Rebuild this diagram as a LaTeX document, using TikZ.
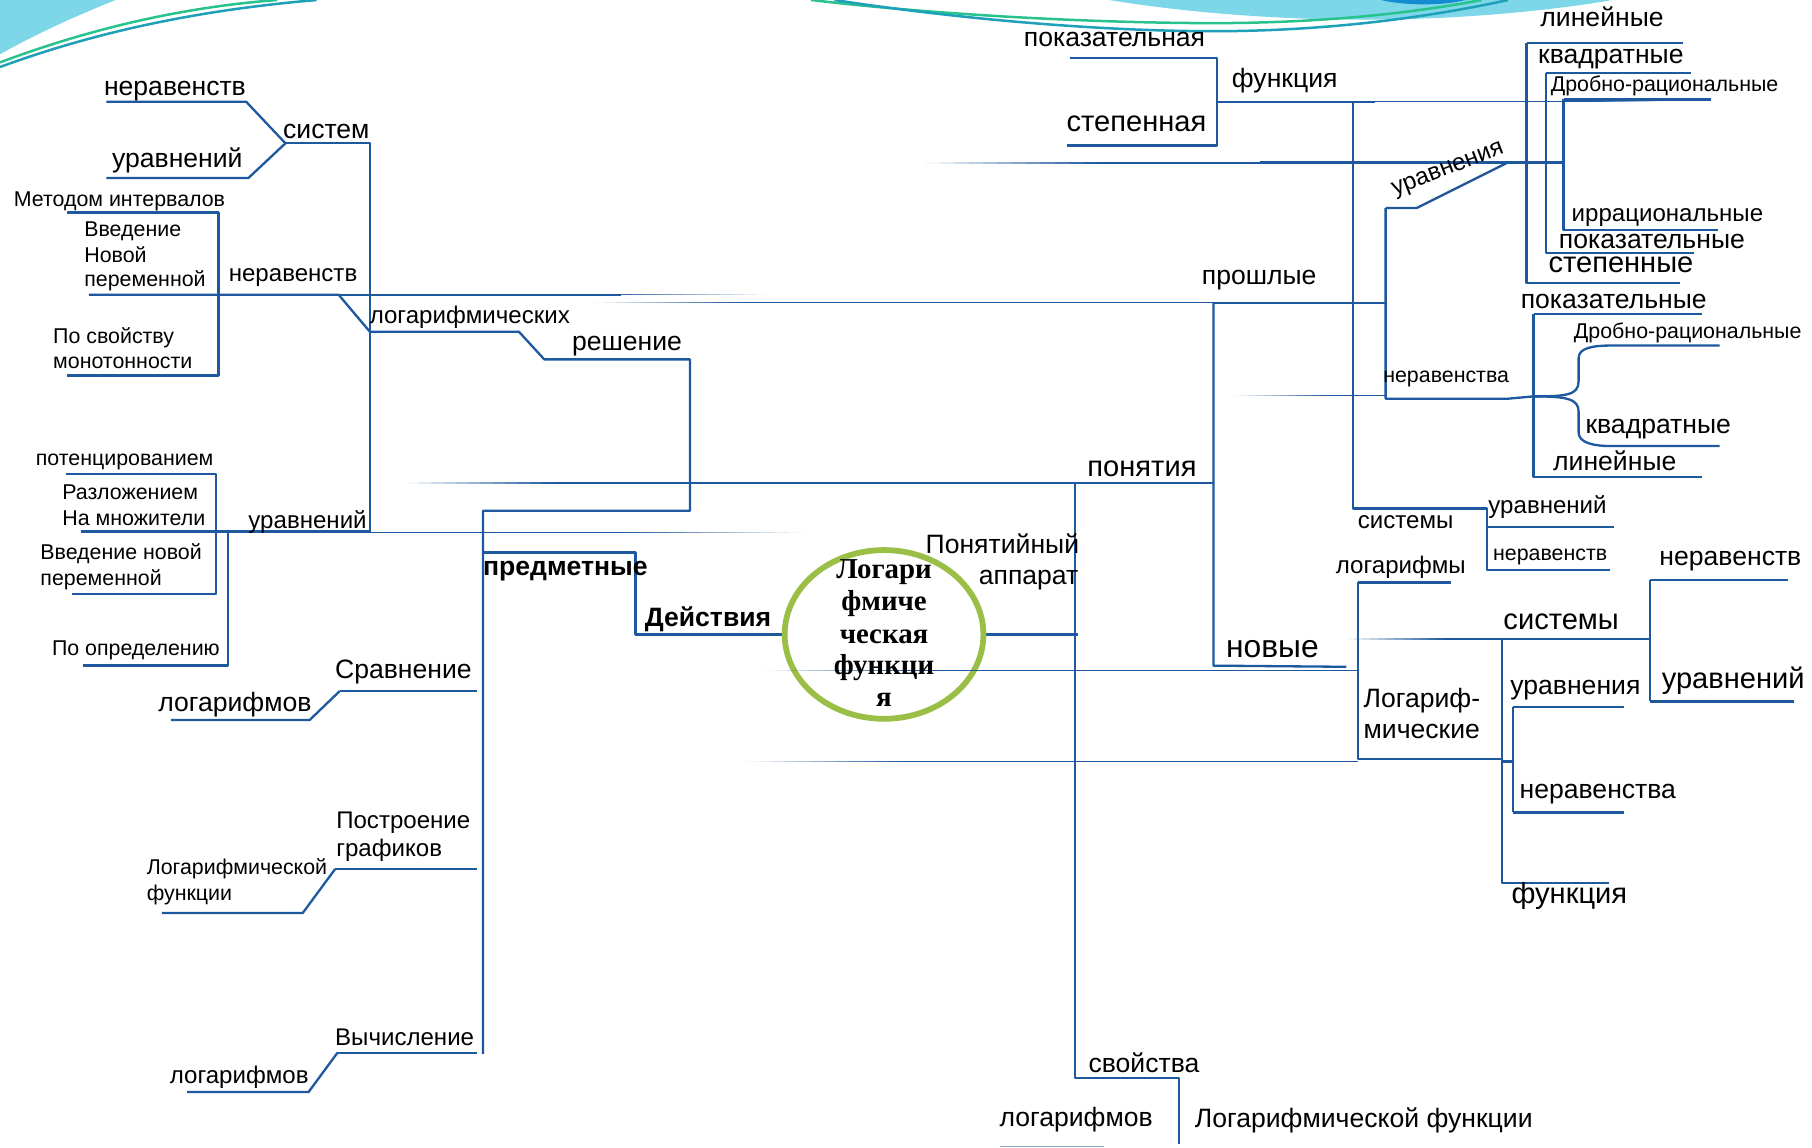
\documentclass[tikz,border=0pt]{standalone}
\usepackage{fontspec}
\setmainfont{Liberation Sans}
\newfontfamily\serifb{Liberation Serif}
\definecolor{lineblue}{RGB}{30,88,158}
\definecolor{ringgreen}{RGB}{155,190,70}
\definecolor{cyanfill}{RGB}{125,215,232}
\definecolor{decoteal}{RGB}{30,160,185}
\definecolor{decogreen}{RGB}{40,195,140}
\definecolor{decoblue}{RGB}{20,140,210}
\tikzset{
  lb/.style={draw=lineblue, line width=1.2pt, line join=round},
  thinln/.style={draw=lineblue, line width=0.75pt},
  tl/.style={anchor=base west, inner sep=0pt, outer sep=0pt, text=black},
  tA/.style={tl, font=\fontsize{13.8}{16}\selectfont},
  tAb/.style={tl, font=\bfseries\fontsize{13.8}{16}\selectfont},
  tB/.style={tl, font=\fontsize{12.5}{15}\selectfont},
  tC/.style={tl, font=\fontsize{11.1}{13}\selectfont},
  tD/.style={tl, font=\fontsize{15.1}{18}\selectfont},
  tE/.style={tl, font=\fontsize{16.5}{20}\selectfont},
  ctext/.style={anchor=base, inner sep=0pt, outer sep=0pt, text=black, font=\serifb\bfseries\fontsize{15}{18}\selectfont},
}
% fading horizontal line: x from #1 to #2 at y #3, opacity #4 -> #5
\newcommand\fadeh[5]{%
  \foreach \k in {0,...,11}{%
    \pgfmathsetmacro\xa{#1+(#2-#1)*\k/12}%
    \pgfmathsetmacro\xb{#1+(#2-#1)*(\k+1)/12}%
    \pgfmathsetmacro\op{#4+(#5-#4)*(\k+0.5)/12}%
    \draw[thinln, draw opacity=\op] (\xa,#3) -- (\xb,#3);
  }}
\begin{document}
\begin{tikzpicture}[x=0.6pt,y=-0.6pt]
\fill[white] (0,0) rectangle (1568,993);
\useasboundingbox (0,0) rectangle (1568,993);

% ---------- decorations ----------
\fill[cyanfill] (0,0) -- (100,0) .. controls (65,14) and (30,30) .. (0,47) -- cycle;
\draw[decoteal, line width=1.3pt] (0,58) .. controls (90,25) and (180,8) .. (274,0);
\draw[decogreen, line width=1.3pt] (0,54) .. controls (80,24) and (160,6) .. (240,0);
\fill[cyanfill] (960,0) .. controls (1020,10) and (1100,17) .. (1180,17) .. controls (1270,17) and (1350,8) .. (1395,0) -- cycle;
\fill[decoblue] (1195,0) .. controls (1215,5) and (1250,5) .. (1268,0) -- cycle;
\draw[decogreen, line width=1.3pt] (702,0) .. controls (820,14) and (960,20) .. (1050,20) .. controls (1150,20) and (1230,10) .. (1282,0);
\draw[decoteal, line width=1.3pt] (722,0) .. controls (840,18) and (960,27) .. (1050,27) .. controls (1160,27) and (1250,12) .. (1305,0);

% ---------- left side ----------
\draw[lb] (92,88) -- (213,88) -- (247,124);
\draw[lb] (92,154) -- (215,154) -- (247,124);
\draw[lb] (247,124) -- (320,124) -- (320,461);
\draw[lb] (58,184) -- (189,184) -- (189,325) -- (58,325);
\draw[lb] (77,255) -- (293,255) -- (320,287) -- (449,287) -- (471,311) -- (597,311) -- (597,442) -- (418,442) -- (418,912);
\draw[lb] (293,255) -- (537,255);
\fadeh{537}{666}{255}{0.9}{0}
\draw[lb] (57,410) -- (187,410) -- (187,514) -- (62,514);
\draw[lb] (70,460) -- (320,460);
\draw[lb] (197,460) -- (197,576) -- (72,576);
\draw[thinln] (320,461) -- (540,461);
\fadeh{540}{696}{461}{1}{0}
\fadeh{352}{480}{418}{0}{1}
\draw[thinln] (480,418) -- (930,418);
\draw[lb] (930,418) -- (1050,418);
\fadeh{513}{640}{262}{0}{1}
\draw[thinln] (640,262) -- (1050,262);
\draw[lb] (1050,262) -- (1199,262);

\draw[lb] (418,478) -- (550,478) -- (550,549) -- (680,549);
\draw[lb] (294,598) -- (413,598);
\draw[lb] (148,623) -- (268,623) -- (294,598);
\draw[lb] (290,752) -- (413,752);
\draw[lb] (140,790) -- (262,790) -- (290,752);
\draw[lb] (292,911) -- (413,911);
\draw[lb] (162,945) -- (267,945) -- (292,911);

% ---------- right side ----------
\draw[lb] (850,549) -- (933,549);
\draw[lb] (930,418) -- (930,933) -- (1020,933) -- (1020,990);
\draw[thinln, draw opacity=0.5] (865,992) -- (955,992);
\draw[lb] (1050,262) -- (1050,576) -- (1165,577);
\draw[lb] (1175,504) -- (1256,504);
\draw[lb] (1175,504) -- (1175,657) -- (1300,657);
\fadeh{646}{780}{659}{0}{1}
\draw[thinln] (780,659) -- (1175,659);
\draw[lb] (1300,553) -- (1300,764) -- (1392,764);
\draw[lb] (1300,553) -- (1428,553);
\fadeh{1165}{1250}{553}{0}{1}
\draw[thinln] (1250,553) -- (1300,553);
\draw[lb] (1428,502) -- (1428,607);
\draw[lb] (1428,502) -- (1547,502);
\draw[lb] (1428,607) -- (1552,607);
\draw[lb] (1300,659) -- (1309,659);
\draw[lb] (1309,612) -- (1309,703);
\draw[lb] (1309,612) -- (1405,612);
\draw[lb] (1309,703) -- (1405,703);

% top function group
\draw[lb] (926,50) -- (1053,50) -- (1053,126) -- (923,126);
\draw[lb] (1053,88) -- (1190,88);
\draw[thinln] (1190,88) -- (1380,88);
\fadeh{1380}{1440}{88}{1}{0}
\draw[lb] (1171,88) -- (1171,440) -- (1287,440) -- (1287,493) -- (1393,493);
\draw[lb] (1287,456) -- (1397,456);
\draw[lb] (1199,180) -- (1199,345) -- (1305,345) -- (1327,343);
\draw[lb] (1199,180) -- (1226,180) -- (1304,141);
\fadeh{801}{950}{141}{0}{1}
\draw[thinln] (950,141) -- (1090,141);
\draw[lb, line width=1.6pt] (1090,141) -- (1353,141);
\draw[lb] (1321,37) -- (1456,37);
\draw[lb] (1321,37) -- (1321,245) -- (1454,245);
\draw[lb] (1338,63) -- (1463,63);
\draw[lb] (1338,63) -- (1338,219) -- (1466,219);
\draw[lb] (1353,86) -- (1481,86);
\draw[lb] (1353,86) -- (1353,199) -- (1487,199);
\fadeh{1067}{1150}{342}{0}{1}
\draw[thinln] (1150,342) -- (1199,342);
\draw[lb] (1327,272) -- (1473,272);
\draw[lb] (1327,272) -- (1327,413) -- (1473,413);
\draw[lb] (1327,343) .. controls (1355,343) and (1366,342) .. (1366,330) -- (1366,310) .. controls (1366,301) and (1378,299) .. (1395,299) -- (1488,299);
\draw[lb] (1327,343) .. controls (1355,343) and (1366,345) .. (1366,356) -- (1366,374) .. controls (1366,383) and (1378,386) .. (1395,386) -- (1488,386);

% ---------- centre ----------
\draw[ringgreen, line width=3pt, fill=white] (765,549) ellipse [x radius=51.6pt, y radius=43.8pt];
\fadeh{662}{780}{580}{0}{0.9}
\draw[thinln] (780,580) -- (1175,580);
\node[ctext] (c1) at (765,501) {Логари};
\node[ctext] (c2) at (765,528.5) {фмиче};
\node[ctext] (c3) at (765,556.5) {ческая};
\node[ctext] (c4) at (765,584) {функци};
\node[ctext] (c5) at (765,611) {я};

% ---------- labels left ----------
\node[tA] (n1) at (90,83) {неравенств};
\node[tA] (n2) at (245,120) {систем};
\node[tA] (n3) at (97,145) {уравнений};
\node[tC] (n4) at (12,179) {Методом интервалов};
\node[tC] (n5a) at (73,205) {Введение};
\node[tC] (n5b) at (73,227) {Новой};
\node[tC] (n5c) at (73,248) {переменной};
\node[tB] (n6) at (198,244) {неравенств};
\node[tC] (n7a) at (46,297) {По свойству};
\node[tC] (n7b) at (46,319) {монотонности};
\node[tB] (n8) at (320,280) {логарифмических};
\node[tA] (n9) at (495,303) {решение};
\node[tC] (n10) at (31,403) {потенцированием};
\node[tC] (n11a) at (54,432) {Разложением};
\node[tC] (n11b) at (54,455) {На множители};
\node[tB] (n12) at (215,457) {уравнений};
\node[tC] (n13a) at (35,484) {Введение новой};
\node[tC] (n13b) at (35,507) {переменной};
\node[tC] (n14) at (45,567) {По определению};
\node[tA] (n15) at (290,587) {Сравнение};
\node[tA] (n16) at (137,616) {логарифмов};
\node[tB] (n17a) at (291,717) {Построение};
\node[tB] (n17b) at (291,741) {графиков};
\node[tC] (n18a) at (127,757) {Логарифмической};
\node[tC] (n18b) at (127,779) {функции};
\node[tB] (n19) at (290,905) {Вычисление};
\node[tB] (n20) at (147,938) {логарифмов};
\node[tAb] (n21) at (418,498) {предметные};
\node[tAb] (n22) at (558,542) {Действия};

% ---------- labels right ----------
\node[tA] (n23a) at (801,479) {Понятийный};
\node[tA] (n23b) at (847,506) {аппарат};
\node[tD] (n24) at (941,412) {понятия};
\node[tA] (n25) at (942,928) {свойства};
\node[tA] (n26) at (865,975) {логарифмов};
\node[tA] (n27) at (1034,976) {Логарифмической функции};
\node[tA] (n28) at (886,40) {показательная};
\node[tD] (n29) at (923,114) {степенная};
\node[tA] (n30) at (1066,76) {функция};
\node[tB, rotate=21] (n31) at (1207,169) {уравнения};
\node[tA] (n32) at (1333,23) {линейные};
\node[tA] (n33) at (1331,55) {квадратные};
\node[tC] (n34) at (1342,79) {Дробно-рациональные};
\node[tB] (n35) at (1360,192) {иррациональные};
\node[tA] (n36) at (1349,215) {показательные};
\node[tD] (n37) at (1340,236) {степенные};
\node[tA] (n38) at (1040,246) {прошлые};
\node[tC] (n39) at (1197,331) {неравенства};
\node[tA] (n40) at (1316,267) {показательные};
\node[tC] (n41) at (1362,293) {Дробно-рациональные};
\node[tA] (n42) at (1372,375) {квадратные};
\node[tA] (n43) at (1344,407) {линейные};
\node[tB] (n44) at (1175,457) {системы};
\node[tB] (n45) at (1288,444) {уравнений};
\node[tC] (n46) at (1292,485) {неравенств};
\node[tB] (n47) at (1156,496) {логарифмы};
\node[tE] (n48) at (1061,569) {новые};
\node[tA] (n49a) at (1180,612) {Логариф-};
\node[tA] (n49b) at (1180,639) {мические};
\node[tD] (n50) at (1301,545) {системы};
\node[tA] (n51) at (1436,489) {неравенств};
\node[tD] (n52) at (1438,596) {уравнений};
\node[tA] (n53) at (1307,601) {уравнения};
\node[tA] (n54) at (1315,691) {неравенства};
\node[tD] (n55) at (1308,782) {функция};
\end{tikzpicture}
\end{document}
